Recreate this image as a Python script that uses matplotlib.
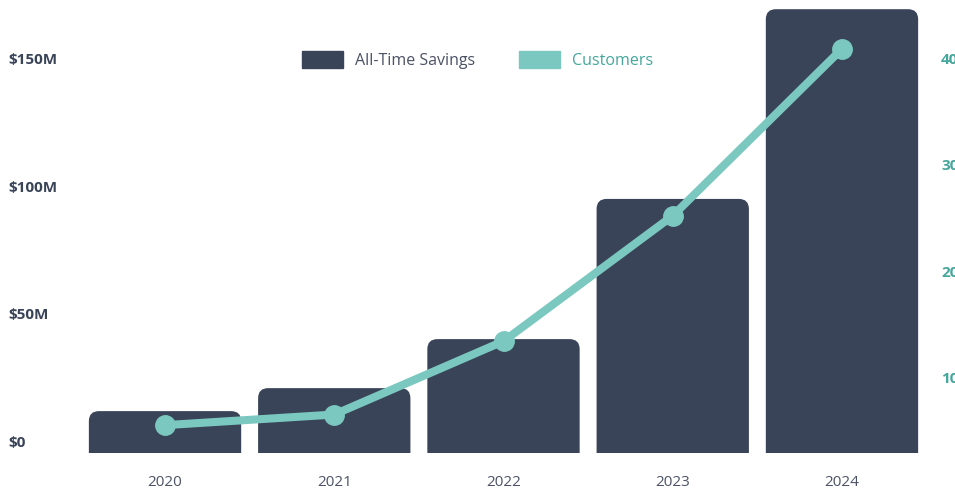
import matplotlib
matplotlib.use("Agg")
import matplotlib.pyplot as plt
import matplotlib.transforms as mtransforms
from matplotlib.patches import FancyBboxPatch, Patch

plt.rcParams["font.family"] = ["Open Sans", "DejaVu Sans"]

# data
years = ["2020", "2021", "2022", "2023", "2024"]
savings_m = [16.4, 25.4, 44.6, 99.5, 173.8]     # $M, all-time savings
customers = [6.6, 7.6, 14.5, 26.3, 42.0]         # customers
left_ticks = [0, 50, 100, 150]
left_labels = ["$0", "$50M", "$100M", "$150M"]
right_ticks = [10, 20, 30, 40]
right_labels = ["10", "20", "30", "40"]

BAR = "#3a4459"
LINE = "#7bc8c0"
TEAL_TXT = "#45a79c"
GREY_TXT = "#4b5266"

W, H = 955, 493
fig = plt.figure(figsize=(W / 100, H / 100), dpi=100)
ax = fig.add_axes([80.4 / W, 40 / H, 846.2 / W, 453 / H])
ax2 = ax.twinx()

x = list(range(len(years)))
ax.set_xlim(-0.5, len(years) - 0.5)
ax.set_ylim(0, 177.4)
ax2.set_ylim(3.98, 46.6)

# bars with rounded tops
bars = ax.bar(x, savings_m, width=0.9, color=BAR)
fig.canvas.draw()
px_x = ax.transData.transform((1, 0))[0] - ax.transData.transform((0, 0))[0]
px_y = ax.transData.transform((0, 1))[1] - ax.transData.transform((0, 0))[1]
aspect = px_x / px_y
r = 10 / px_x
for b in bars:
    bx, by, bw, bh = b.get_x(), b.get_y(), b.get_width(), b.get_height()
    b.remove()
    p = FancyBboxPatch((bx, by - 20), bw, bh + 20,
                       boxstyle=f"round,pad=0,rounding_size={r}",
                       mutation_aspect=aspect, fc=BAR, ec="none", zorder=2)
    ax.add_patch(p)

ax2.plot(x, customers, color=LINE, lw=5.8, marker="o", ms=14, zorder=3,
         solid_capstyle="round")

for a in (ax, ax2):
    for s in a.spines.values():
        s.set_visible(False)
    a.set_yticks([])
ax.set_xticks(x)
ax.set_xticklabels(years, fontsize=11, color=GREY_TXT)
ax.tick_params(axis="x", length=0, pad=16)

# y labels sit a little above their gridline
off = mtransforms.ScaledTranslation(0, 10 / 100, fig.dpi_scale_trans)
tl = mtransforms.blended_transform_factory(fig.transFigure, ax.transData) + off
for v, lab in zip(left_ticks, left_labels):
    ax.text(8 / W, v, lab, transform=tl, ha="left", va="center",
            fontsize=11, fontweight="bold", color=BAR, clip_on=False)
tr = mtransforms.blended_transform_factory(fig.transFigure, ax2.transData) + off
for v, lab in zip(right_ticks, right_labels):
    ax2.text(941 / W, v, lab, transform=tr, ha="left", va="center",
             fontsize=11, fontweight="bold", color=TEAL_TXT, clip_on=False)

handles = [Patch(color=BAR, label="All-Time Savings"),
           Patch(color=LINE, label="Customers")]
leg = fig.legend(handles=handles, loc="center", bbox_to_anchor=(0.5, 1 - 60 / H),
                 ncol=2, frameon=False, fontsize=11.5, handlelength=2.56,
                 handleheight=1.31, handletextpad=0.75, columnspacing=2.8)
leg.get_texts()[0].set_color(GREY_TXT)
leg.get_texts()[1].set_color(TEAL_TXT)

fig.savefig("out.png", dpi=100)
